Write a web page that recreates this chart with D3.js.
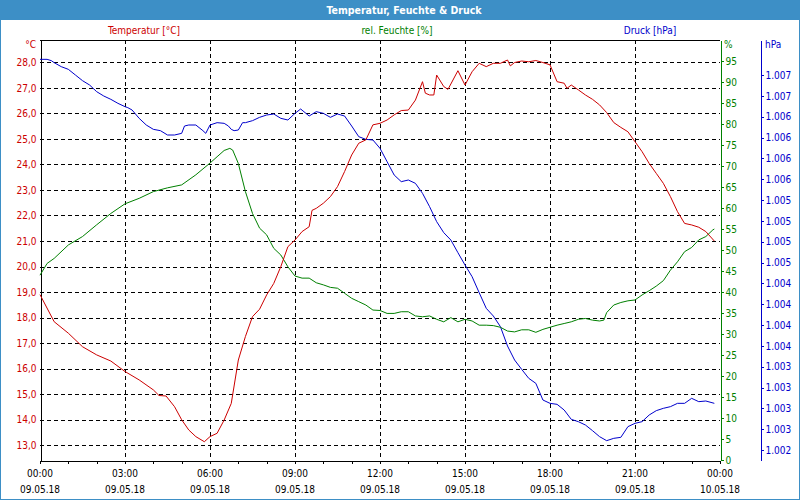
<!DOCTYPE html>
<html><head><meta charset="utf-8">
<script src="https://cdn.jsdelivr.net/npm/d3@7"></script>
<style>
body{margin:0;background:#fff;}
svg text{font-family:"DejaVu Sans Condensed","DejaVu Sans",sans-serif;}
</style></head><body>
<svg id="c" width="800" height="500"></svg>
<script>
const title = "Temperatur, Feuchte & Druck";
const seriesNames = ["Temperatur [°C]", "rel. Feuchte [%]", "Druck [hPa]"];
const xTickHours = [0,3,6,9,12,15,18,21,24];
const xTickTimes = ["00:00","03:00","06:00","09:00","12:00","15:00","18:00","21:00","00:00"];
const xTickDates = ["09.05.18","09.05.18","09.05.18","09.05.18","09.05.18","09.05.18","09.05.18","09.05.18","10.05.18"];
const tempTicks = [13,14,15,16,17,18,19,20,21,22,23,24,25,26,27,28];
const humTicks = [0,5,10,15,20,25,30,35,40,45,50,55,60,65,70,75,80,85,90,95];
const presTicks = [1002.25,1002.5,1002.75,1003,1003.25,1003.5,1003.75,1004,1004.25,1004.5,1004.75,1005,1005.25,1005.5,1005.75,1006,1006.25,1006.5,1006.75];

const tempTimes = [0,0.5,1,1.5,2,2.5,3,3.5,4,4.2,4.45,4.75,5,5.25,5.5,5.8,6,6.25,6.5,6.75,7,7.25,7.5,7.75,8,8.25,8.5,8.75,9,9.25,9.5,9.6,9.75,10,10.25,10.5,10.75,11,11.25,11.5,11.75,12,12.25,12.5,12.75,13,13.25,13.5,13.6,13.75,13.9,14,14.25,14.4,14.75,15,15.25,15.5,15.75,16,16.25,16.5,16.6,16.75,17,17.25,17.5,17.75,18,18.25,18.5,18.6,18.75,19,19.25,19.5,19.75,20,20.25,20.5,20.75,21,21.25,21.5,21.75,22,22.25,22.5,22.75,23,23.25,23.5,23.8];
const tempValues = [18.9,17.84,17.39,16.86,16.54,16.3,15.89,15.56,15.17,14.95,14.93,14.51,14.0,13.6,13.34,13.14,13.34,13.47,13.99,14.64,16.34,17.26,18.04,18.33,18.89,19.34,20.0,20.78,21.04,21.37,21.56,22.2,22.28,22.48,22.74,23.13,23.72,24.37,24.83,24.96,25.55,25.61,25.74,25.94,26.11,26.13,26.52,27.24,26.79,26.72,26.72,27.5,27.05,26.94,27.67,27.11,27.63,27.96,27.83,27.96,27.96,28.09,27.86,27.99,28.05,28.02,28.07,27.99,27.9,27.24,27.18,26.98,27.11,26.92,26.72,26.55,26.33,26.03,25.64,25.45,25.28,24.89,24.5,24.04,23.65,23.26,22.74,22.15,21.69,21.63,21.54,21.37,21.0];

const humTimes = [0,0.25,0.5,1,1.5,2,2.5,3,3.5,4,4.5,5,5.5,6,6.25,6.5,6.7,6.8,7,7.25,7.5,7.75,8,8.25,8.5,8.75,9,9.25,9.5,9.75,10,10.25,10.5,10.75,11,11.25,11.5,11.75,12,12.25,12.5,12.75,13,13.25,13.5,13.75,14,14.25,14.5,14.75,15,15.25,15.5,15.75,16,16.25,16.5,16.75,17,17.25,17.5,17.75,18,18.25,18.5,18.75,19,19.25,19.5,19.75,19.9,20,20.25,20.5,20.75,21,21.25,21.5,21.75,22,22.25,22.5,22.75,23,23.25,23.5,23.75,23.8];
const humValues = [44.0,46.8,48.0,51.2,53.2,56.0,58.7,61.0,62.3,63.9,64.8,65.5,67.9,70.7,72.2,73.7,74.2,73.8,70.6,63.9,58.7,55.2,53.6,50.4,48.8,46.0,43.8,43.3,43.3,42.2,41.7,41.1,40.9,39.7,38.5,37.7,36.9,35.7,35.6,34.9,34.9,35.3,35.3,34.3,34.1,34.3,33.5,32.9,33.9,32.9,33.5,33.1,32.1,32.1,32.0,31.6,30.7,30.5,31.0,31.0,30.4,31.1,31.6,32.1,32.5,32.9,33.5,33.7,33.3,33.1,33.3,35.1,36.9,37.5,37.9,38.1,39.3,40.3,41.4,42.7,45.2,47.2,49.6,50.6,52.4,53.2,54.8,55.0];

const presTimes = [0,0.25,0.4,0.5,0.75,1,1.25,1.5,1.75,2,2.25,2.5,2.75,3,3.1,3.25,3.5,3.75,4,4.25,4.5,4.75,5,5.1,5.25,5.5,5.75,5.85,6,6.25,6.5,6.65,6.75,6.85,7,7.15,7.25,7.5,7.75,8,8.25,8.5,8.75,9,9.2,9.5,9.75,10,10.25,10.5,10.75,11,11.25,11.5,11.75,12,12.25,12.5,12.75,13,13.25,13.5,13.75,14,14.25,14.5,14.75,15,15.25,15.5,15.75,16,16.25,16.5,16.75,17,17.25,17.5,17.75,18,18.25,18.5,18.75,19,19.25,19.5,19.75,20,20.25,20.5,20.75,21,21.25,21.5,21.75,22,22.25,22.5,22.75,23,23.25,23.5,23.8];
const presValues = [1006.938,1006.938,1006.922,1006.898,1006.85,1006.818,1006.75,1006.682,1006.63,1006.55,1006.498,1006.458,1006.41,1006.37,1006.358,1006.33,1006.23,1006.15,1006.098,1006.082,1006.03,1006.03,1006.05,1006.138,1006.15,1006.15,1006.082,1006.05,1006.15,1006.178,1006.17,1006.138,1006.098,1006.082,1006.09,1006.178,1006.178,1006.202,1006.242,1006.27,1006.282,1006.23,1006.21,1006.29,1006.342,1006.258,1006.31,1006.29,1006.242,1006.282,1006.258,1006.138,1006.01,1005.978,1005.97,1005.87,1005.71,1005.55,1005.47,1005.49,1005.45,1005.33,1005.17,1004.99,1004.858,1004.77,1004.618,1004.47,1004.33,1004.138,1003.95,1003.858,1003.73,1003.498,1003.33,1003.218,1003.11,1003.05,1002.85,1002.81,1002.798,1002.73,1002.618,1002.59,1002.55,1002.482,1002.41,1002.362,1002.39,1002.402,1002.53,1002.57,1002.59,1002.67,1002.722,1002.75,1002.77,1002.81,1002.81,1002.87,1002.83,1002.838,1002.81];

const C = {frame:"#3d8fc6", temp:"#cc0000", hum:"#008000", pres:"#0000cc"};
const L=40, R=720, T=40, B=460;
const svg = d3.select("#c");

// outer frame & title bar
svg.append("rect").attr("x",0.5).attr("y",0.5).attr("width",799).attr("height",499).attr("fill","#fff").attr("stroke",C.frame);
svg.append("rect").attr("x",0).attr("y",0).attr("width",800).attr("height",20).attr("fill",C.frame);
svg.append("text").attr("x",404).attr("y",14).attr("text-anchor","middle").attr("fill","#fff")
  .attr("font-weight","bold").attr("font-size",10.5).text(title);

const x = d3.scaleLinear().domain([0,24]).range([L,R]);
const yT = d3.scaleLinear().domain([12.424,28.873]).range([B,T]);
const yH = d3.scaleLinear().domain([0,100]).range([B,T]);
const yP = d3.scaleLinear().domain([1002.13,1007.17]).range([B,T]);

// legend labels
[[seriesNames[0],144,C.temp],[seriesNames[1],397,C.hum],[seriesNames[2],650,C.pres]].forEach(d=>{
  svg.append("text").attr("x",d[1]).attr("y",34).attr("text-anchor","middle").attr("fill",d[2]).attr("font-size",10).text(d[0]);
});

// gridlines
const g = svg.append("g").attr("shape-rendering","crispEdges");
g.selectAll(".hg").data(tempTicks).join("line")
  .attr("x1",L).attr("x2",R).attr("y1",d=>Math.round(yT(d))+0.5).attr("y2",d=>Math.round(yT(d))+0.5)
  .attr("stroke","#000").attr("stroke-dasharray","4,3");
g.selectAll(".vg").data(xTickHours.slice(1,-1)).join("line")
  .attr("y1",T).attr("y2",B).attr("x1",d=>Math.round(x(d))+0.5).attr("x2",d=>Math.round(x(d))+0.5)
  .attr("stroke","#000").attr("stroke-dasharray","4,3");

// left axis (temperature)
const fmtT = d=>d.toFixed(1).replace(".",",");
const axL = svg.append("g").attr("transform",`translate(${L+0.5},0)`)
  .call(d3.axisLeft(yT).tickValues(tempTicks).tickSize(0).tickPadding(4).tickFormat(fmtT));
axL.select(".domain").attr("stroke","#000").attr("shape-rendering","crispEdges");
axL.selectAll("text").attr("fill",C.temp).attr("font-size",10).attr("font-family",null);
svg.append("text").attr("x",36).attr("y",48).attr("text-anchor","end").attr("fill",C.temp).attr("font-size",10).text("°C");

// top border
svg.append("line").attr("x1",L).attr("x2",R).attr("y1",T+0.5).attr("y2",T+0.5).attr("stroke","#000").attr("shape-rendering","crispEdges");

// bottom axis
const axB = svg.append("g").attr("transform",`translate(0,${B+0.5})`)
  .call(d3.axisBottom(x).tickValues(d3.range(0,25,1)).tickSizeInner(3).tickSizeOuter(0).tickFormat(""));
axB.select(".domain").attr("stroke","#000");
axB.attr("shape-rendering","crispEdges");
const xl = svg.append("g");
xTickHours.forEach((h,i)=>{
  xl.append("text").attr("x",x(h)).attr("y",477).attr("text-anchor","middle").attr("font-size",10).attr("fill","#000").text(xTickTimes[i]);
  xl.append("text").attr("x",x(h)).attr("y",493).attr("text-anchor","middle").attr("font-size",10).attr("fill","#000").text(xTickDates[i]);
});

// right axis humidity
const axH = svg.append("g").attr("transform",`translate(${R+0.5},0)`)
  .call(d3.axisRight(yH).tickValues(humTicks).tickSizeInner(3).tickSizeOuter(0).tickPadding(2).tickFormat(d=>d));
axH.selectAll("path,line").attr("stroke",C.hum).attr("shape-rendering","crispEdges");
axH.selectAll("text").attr("fill",C.hum).attr("font-size",10).attr("font-family",null);
svg.append("text").attr("x",724).attr("y",48).attr("fill",C.hum).attr("font-size",10).text("%");

// right axis pressure
const fmtP = d=>{const v=Math.round(d);return Math.floor(v/1000)+"."+String(v%1000).padStart(3,"0");};
const axP = svg.append("g").attr("transform",`translate(760.5,0)`)
  .call(d3.axisRight(yP).tickValues(presTicks).tickSizeInner(3).tickSizeOuter(0).tickPadding(2).tickFormat(fmtP));
axP.selectAll("path,line").attr("stroke",C.pres).attr("shape-rendering","crispEdges");
axP.selectAll("text").attr("fill",C.pres).attr("font-size",10).attr("font-family",null);
svg.append("text").attr("x",765).attr("y",48).attr("fill",C.pres).attr("font-size",10).text("hPa");

// lines
function draw(times, vals, ys, col){
  const data = times.map((t,i)=>[t,vals[i]]);
  svg.append("path").datum(data).attr("fill","none").attr("stroke",col).attr("stroke-width",1)
    .attr("d", d3.line().x(d=>x(d[0])).y(d=>ys(d[1])));
}
draw(presTimes,presValues,yP,C.pres);
draw(humTimes,humValues,yH,C.hum);
draw(tempTimes,tempValues,yT,C.temp);
</script></body></html>
